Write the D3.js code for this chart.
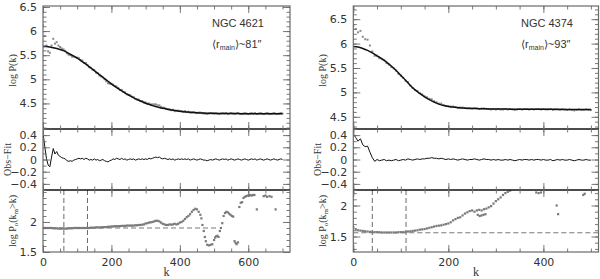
<!DOCTYPE html>
<html><head><meta charset="utf-8">
<script src="https://cdn.jsdelivr.net/npm/d3@7"></script>
<style>body{margin:0;background:#fff}svg{display:block}</style>
</head><body><svg id="c" width="600" height="279"></svg>
<script>
// ---------------- DATA ----------------
// NGC 4621 (left)
const kStepL = d3.range(0, 705, 5);          // obs / residual grid
const kFitL = d3.range(0, 710, 10);          // fit grid
const obsL = [6.12,5.90,5.70,5.58,5.55,5.70,5.84,5.74,5.77,5.70,
5.67,5.64,5.62,5.59,5.54,5.51,5.50,5.47,5.47,5.46,
5.45,5.44,5.40,5.39,5.34,5.34,5.30,5.25,5.24,5.20,
5.19,5.14,5.13,5.08,5.06,5.04,5.00,4.96,4.92,4.91,
4.90,4.89,4.86,4.85,4.82,4.78,4.78,4.74,4.73,4.69,
4.68,4.67,4.64,4.63,4.59,4.58,4.58,4.55,4.55,4.52,
4.52,4.49,4.50,4.48,4.48,4.48,4.48,4.46,4.46,4.43,
4.41,4.41,4.39,4.38,4.38,4.36,4.37,4.34,4.35,4.35,
4.34,4.34,4.33,4.34,4.32,4.33,4.31,4.31,4.32,4.31,
4.30,4.31,4.31,4.30,4.29,4.29,4.28,4.29,4.30,4.29,
4.29,4.30,4.29,4.28,4.29,4.30,4.29,4.30,4.28,4.29,
4.30,4.29,4.28,4.29,4.30,4.29,4.28,4.29,4.30,4.29,
4.28,4.29,4.30,4.29,4.30,4.28,4.29,4.30,4.29,4.28,
4.29,4.30,4.29,4.28,4.29,4.30,4.29,4.28,4.29,4.30,
4.29];
const fitL = [5.680,5.678,5.670,5.655,5.640,5.620,5.595,5.560,5.520,5.480,
5.440,5.390,5.340,5.290,5.235,5.180,5.125,5.070,5.015,4.960,
4.905,4.855,4.805,4.760,4.715,4.675,4.635,4.600,4.565,4.535,
4.505,4.480,4.455,4.435,4.415,4.398,4.383,4.370,4.358,4.347,
4.338,4.330,4.323,4.317,4.312,4.308,4.304,4.301,4.298,4.296,
4.294,4.293,4.292,4.291,4.290,4.290,4.289,4.289,4.288,4.288,
4.288,4.287,4.287,4.287,4.286,4.286,4.286,4.286,4.285,4.285,
4.285];
const resL = [0.44,0.22,0.02,-0.09,-0.12,0.04,0.18,0.09,0.13,0.07,
0.05,0.03,0.02,0.01,-0.02,-0.03,-0.02,-0.03,-0.01,0.00,
0.01,0.02,0.01,0.02,0.00,0.02,0.01,-0.01,0.00,-0.01,
0.01,-0.01,0.00,-0.02,-0.01,0.00,-0.02,-0.03,-0.04,-0.02,
-0.01,0.01,0.00,0.02,0.01,0.00,0.02,0.00,0.01,-0.01,
0.00,0.01,0.00,0.01,-0.01,0.00,0.01,0.00,0.01,0.00,
0.01,0.00,0.02,0.01,0.02,0.03,0.04,0.03,0.04,0.02,
0.01,0.02,0.01,0.00,0.01,0.00,0.01,-0.01,0.00,0.01,
0.00,0.01,0.00,0.01,0.00,0.01,-0.01,0.00,0.01,0.00,
-0.01,0.00,0.01,0.00,-0.01,-0.01,-0.02,-0.01,0.00,-0.01,
0.00,0.01,0.00,-0.01,0.00,0.01,0.00,0.01,-0.01,0.00,
0.01,0.00,-0.01,0.00,0.01,0.00,-0.01,0.00,0.01,0.00,
-0.01,0.00,0.01,0.00,0.01,-0.01,0.00,0.01,0.00,-0.01,
0.00,0.01,0.00,-0.01,0.00,0.01,0.00,-0.01,0.00,0.01,
0.00];
const cumGridL = d3.range(0, 460, 5);
const cumL = [1.90,1.90,1.90,1.90,1.90,1.90,1.895,1.895,1.895,1.89,
1.89,1.89,1.89,1.89,1.89,1.895,1.895,1.895,1.90,1.90,
1.90,1.90,1.90,1.90,1.90,1.90,1.90,1.90,1.905,1.905,
1.905,1.91,1.91,1.91,1.91,1.915,1.915,1.915,1.92,1.92,
1.925,1.925,1.93,1.93,1.93,1.93,1.935,1.935,1.935,1.94,
1.94,1.94,1.94,1.94,1.945,1.945,1.95,1.95,1.955,1.96,
1.975,1.98,1.99,1.995,2.00,2.01,2.02,2.02,2.01,1.99,
1.97,1.96,1.95,1.95,1.96,1.955,1.96,1.97,1.96,1.97,
1.99,2.00,2.02,2.05,2.08,2.10,2.13,2.17,2.20,2.22,
2.21,2.17];
const cumExtraKL = [460,463,466,470,473,476,480,485,490,495,500,503,506,510,513,517,520,524,528,532,536,540,544,548,552,556,560,563,566,570,574,578,582,586,590,594,598,602,606,610,614,618,625,645,650,655,662,668,680];
const cumExtraL = [2.12,2.06,1.95,1.85,1.75,1.68,1.62,1.61,1.62,1.63,1.70,1.74,1.76,1.77,1.75,1.85,1.90,1.98,2.10,2.15,2.17,2.16,2.14,2.12,2.10,2.09,1.68,1.65,1.63,1.66,2.25,2.32,2.33,2.40,2.42,2.43,2.44,2.44,2.45,2.44,2.45,2.45,2.21,2.43,2.44,2.42,2.43,2.42,2.21];
const kCutL = [61, 130];
const levelL = 1.90, levelEndL = 510;

// NGC 4374 (right)
const kStepR = d3.range(0, 505, 5);
const kFitR = d3.range(0, 510, 10);
const obsR = [6.36,6.30,6.23,6.26,6.14,6.09,6.08,5.96,5.84,5.75,
5.75,5.70,5.68,5.66,5.60,5.57,5.52,5.49,5.45,5.38,
5.34,5.30,5.24,5.21,5.14,5.09,5.05,5.03,4.98,4.96,
4.92,4.90,4.87,4.86,4.82,4.80,4.77,4.77,4.74,4.72,
4.72,4.71,4.71,4.70,4.68,4.69,4.69,4.68,4.67,4.67,
4.67,4.68,4.67,4.66,4.67,4.67,4.66,4.66,4.65,4.66,
4.65,4.66,4.65,4.65,4.66,4.65,4.66,4.65,4.64,4.65,
4.66,4.65,4.66,4.66,4.65,4.66,4.65,4.66,4.66,4.65,
4.66,4.65,4.65,4.66,4.64,4.65,4.66,4.65,4.66,4.65,
4.64,4.65,4.64,4.63,4.64,4.65,4.64,4.64,4.65,4.64,
4.64];
const fitR = [5.94,5.93,5.90,5.86,5.81,5.75,5.69,5.62,5.54,5.45,
5.35,5.25,5.14,5.05,4.98,4.91,4.85,4.80,4.76,4.73,
4.71,4.70,4.69,4.68,4.675,4.67,4.668,4.665,4.663,4.661,
4.660,4.659,4.658,4.657,4.657,4.656,4.656,4.655,4.655,4.654,
4.654,4.653,4.653,4.652,4.652,4.652,4.651,4.651,4.651,4.650,
4.650];
const resR = [0.42,0.36,0.30,0.34,0.24,0.21,0.22,0.12,0.03,-0.03,
0.00,-0.02,-0.01,0.00,-0.02,-0.01,-0.02,-0.01,0.00,-0.02,
-0.01,0.00,-0.01,0.01,0.00,-0.01,0.00,0.01,0.00,0.01,
0.01,0.02,0.02,0.03,0.02,0.02,0.01,0.02,0.01,0.00,
0.01,0.00,0.01,0.00,-0.01,0.00,0.01,0.00,-0.01,0.00,
0.00,0.01,0.00,-0.01,0.00,0.01,0.00,0.00,-0.01,0.00,
-0.01,0.00,-0.01,-0.01,0.00,-0.01,0.00,-0.01,-0.02,-0.01,
0.00,-0.01,0.00,0.00,-0.01,0.00,-0.01,0.00,0.00,-0.01,
0.00,-0.01,-0.01,0.00,-0.02,-0.01,0.00,-0.01,0.00,-0.01,
-0.01,0.00,-0.01,-0.02,-0.01,0.00,-0.01,-0.01,0.00,-0.01,
-0.01];
const cumGridR = d3.range(0, 335, 5);
const cumR = [1.65,1.62,1.60,1.595,1.59,1.585,1.58,1.575,1.575,1.57,
1.57,1.57,1.565,1.565,1.565,1.565,1.565,1.565,1.565,1.57,
1.57,1.57,1.575,1.58,1.585,1.59,1.595,1.60,1.61,1.615,
1.62,1.63,1.64,1.65,1.66,1.67,1.675,1.68,1.69,1.70,
1.71,1.73,1.76,1.78,1.80,1.81,1.84,1.87,1.89,1.91,
1.92,1.90,1.92,1.93,1.92,1.94,1.95,1.97,1.99,2.03,
2.07,2.10,2.13,2.17,2.20,2.22,2.24];
const cumExtraKR = [262,266,270,274,278,385,390,395,428,431,484,487];
const cumExtraR = [1.85,1.83,1.84,1.85,1.86,2.21,2.20,2.21,2.00,1.86,2.17,2.19];
const kCutR = [40, 111];
const levelR = 1.56, levelEndR = 516;

// tick / label text
const galaxyNames = ["NGC 4621", "NGC 4374"];
const radii = ["81", "93"];
const xTickLabelsL = [0, 200, 400, 600];
const xTickLabelsR = [0, 200, 400];
const topTicksL = [4.5, 5, 5.5, 6, 6.5];
const topTicksR = [4.5, 5, 5.5, 6, 6.5];
const midTicks = [-0.4, -0.2, 0, 0.2, 0.4];
const botTicksL = [1.5, 2];
const botTicksR = [1.5, 2];

// ---------------- DRAW ----------------
const svg = d3.select('#c');
const FR = '#6a6a6a', TXT = '#333', PT = '#8c8c8c';
const Y0 = 6, Y1 = 129, Y2 = 190, Y3 = 252;

function axesFor(g, x, y, xMajor, xMinor, yMajor, yMinor, yLabels, xLabels, lx, ly){
  const [xa, xb] = x.range(), [yb, ya] = y.range();
  const fmtNum = d => (d < 0 ? '\u2212' : '') + Math.abs(d);
  const add = (axis, tx, ty) => {
    const a = g.append('g').attr('transform', `translate(${tx},${ty})`).call(axis);
    a.select('.domain').remove();
    a.selectAll('line').attr('stroke', FR).attr('stroke-width', 0.9);
    a.selectAll('text').attr('fill', TXT).style('font-family', 'DejaVu Sans, sans-serif').style('font-size', '11px');
    return a;
  };
  add(d3.axisBottom(x).tickValues(xMajor).tickSize(-7).tickPadding(6).tickFormat(xLabels ? d3.format('d') : () => ''), 0, yb);
  add(d3.axisBottom(x).tickValues(xMinor).tickSize(-3.5).tickFormat(() => ''), 0, yb);
  add(d3.axisTop(x).tickValues(xMajor).tickSize(-7).tickFormat(() => ''), 0, ya);
  add(d3.axisTop(x).tickValues(xMinor).tickSize(-3.5).tickFormat(() => ''), 0, ya);
  add(d3.axisLeft(y).tickValues(yMajor).tickSize(-7).tickPadding(6).tickFormat(yLabels ? fmtNum : () => ''), xa, 0);
  add(d3.axisLeft(y).tickValues(yMinor).tickSize(-3.5).tickFormat(() => ''), xa, 0);
  add(d3.axisRight(y).tickValues(yMajor).tickSize(-7).tickFormat(() => ''), xb, 0);
  add(d3.axisRight(y).tickValues(yMinor).tickSize(-3.5).tickFormat(() => ''), xb, 0);
}

function within(dom, v){ return v >= Math.min(...dom) - 1e-9 && v <= Math.max(...dom) + 1e-9; }

function drawSide(o){
  const g = svg.append('g');
  const x = d3.scaleLinear().domain(o.xDom).range(o.xRange);
  const yT = d3.scaleLinear().domain(o.topDom).range([Y1, Y0]);
  const yM = d3.scaleLinear().domain([-0.5, 0.5]).range([Y2, Y1]);
  const yB = d3.scaleLinear().domain(o.botDom).range([Y3, Y2]);
  const [xa, xb] = o.xRange;
  const id = o.id;
  const defs = svg.append('defs');
  [['t', Y0, Y1], ['m', Y1, Y2], ['b', Y2, Y3]].forEach(([n, a, b]) => {
    defs.append('clipPath').attr('id', id + n).append('rect').attr('x', xa).attr('y', a).attr('width', xb - xa).attr('height', b - a);
  });
  const xMinor = d3.range(0, o.xDom[1], 50);
  const xMajor = d3.range(0, o.xDom[1], 200);

  // top panel: points + fit
  const gt = g.append('g').attr('clip-path', `url(#${id}t)`);
  gt.selectAll('rect.o').data(o.kStep).join('rect')
    .attr('x', (d, i) => x(d) - 1).attr('y', (d, i) => yT(o.obs[i]) - 1)
    .attr('width', 2).attr('height', 2).attr('fill', PT);
  gt.append('path').datum(o.kFit.map((k, i) => [k, o.fit[i]]))
    .attr('d', d3.line().x(d => x(d[0])).y(d => yT(d[1])).curve(d3.curveMonotoneX))
    .attr('fill', 'none').attr('stroke', '#111').attr('stroke-width', 1.5);

  // middle: residual
  const gm = g.append('g').attr('clip-path', `url(#${id}m)`);
  gm.append('path').datum(o.kStep.map((k, i) => [k, o.res[i]]))
    .attr('d', d3.line().x(d => x(d[0])).y(d => yM(d[1])))
    .attr('fill', 'none').attr('stroke', '#111').attr('stroke-width', 1);

  // bottom: cumulative
  const gb = g.append('g').attr('clip-path', `url(#${id}b)`);
  o.cuts.forEach(c => gb.append('line').attr('x1', x(c)).attr('x2', x(c)).attr('y1', Y2).attr('y2', Y3)
    .attr('stroke', '#444').attr('stroke-width', 0.8).attr('stroke-dasharray', '5,3'));
  gb.append('line').attr('x1', x(0)).attr('x2', x(o.levelEnd)).attr('y1', yB(o.level)).attr('y2', yB(o.level))
    .attr('stroke', '#555').attr('stroke-width', 0.8).attr('stroke-dasharray', '5,3');
  const cumPts = o.cumGrid.map((k, i) => [k, o.cum[i]]).concat(o.cumExtraK.map((k, i) => [k, o.cumExtra[i]]));
  gb.selectAll('rect.c').data(cumPts).join('rect')
    .attr('x', d => x(d[0]) - 1.1).attr('y', d => yB(d[1]) - 1.1)
    .attr('width', 2.2).attr('height', 2.2).attr('fill', '#7a7a7a');

  // frames
  g.append('rect').attr('x', xa).attr('y', Y0).attr('width', xb - xa).attr('height', Y3 - Y0)
    .attr('fill', 'none').attr('stroke', FR).attr('stroke-width', 1.2);
  [Y1, Y2].forEach(yy => g.append('line').attr('x1', xa).attr('x2', xb).attr('y1', yy).attr('y2', yy)
    .attr('stroke', '#111').attr('stroke-width', 1.3));

  // axes
  axesFor(g, x, yT, xMajor, xMinor, o.topTicks, d3.range(Math.ceil(o.topDom[0] * 10), Math.floor(o.topDom[1] * 10) + 1).map(v => v / 10), true, false);
  axesFor(g, x, yM, xMajor, xMinor, midTicks, d3.range(-5, 6).map(v => v / 10), true, false);
  axesFor(g, x, yB, xMajor, xMinor, o.botTicks, d3.range(Math.ceil(o.botDom[0] * 10), Math.floor(o.botDom[1] * 10) + 1).map(v => v / 10), true, true);
  // x labels only for chosen values
  // (axisBottom already labels majors; fine)

  // titles
  const serif = 'Liberation Serif, DejaVu Serif, serif';
  const cx = (xa + xb) / 2;
  g.append('text').attr('x', cx).attr('y', 276).attr('text-anchor', 'middle')
    .attr('fill', TXT).style('font-family', serif).style('font-size', '12px').text('k');

  const yl = (xx, yy, build) => {
    const t = g.append('text').attr('transform', `translate(${xx},${yy}) rotate(-90)`).attr('text-anchor', 'middle')
      .attr('fill', TXT).style('font-family', serif).style('font-size', '10px');
    build(t);
  };
  yl(o.titleX, (Y0 + Y1) / 2 + 3, t => t.text('log  P(k)'));
  yl(o.titleX - 5, (Y1 + Y2) / 2, t => t.text('Obs\u2212Fit'));
  yl(o.titleX, (Y2 + Y3) / 2, t => {
    t.append('tspan').text('log  P');
    t.append('tspan').attr('dy', 2).style('font-size', '7px').text('o');
    t.append('tspan').attr('dy', -2).text('(k');
    t.append('tspan').attr('dy', 2).style('font-size', '7px').text('m');
    t.append('tspan').attr('dy', -2).text('>k)');
  });

  // annotations
  const sans = 'Liberation Sans, Arial, sans-serif';
  g.append('text').attr('x', o.annX).attr('y', 27).attr('fill', TXT)
    .style('font-family', sans).style('font-size', '11px').text(o.name);
  const t2 = g.append('text').attr('x', o.annX).attr('y', 48).attr('fill', TXT)
    .style('font-family', sans).style('font-size', '11px');
  t2.append('tspan').text('\u27e8r');
  t2.append('tspan').attr('dy', 2).style('font-size', '7px').text('main');
  t2.append('tspan').attr('dy', -2).text('\u27e9~' + o.radius + '\u2033');
}

drawSide({id: 'L', xDom: [0, 722], xRange: [43, 290], topDom: [3.97, 6.52], botDom: [1.5, 2.533],
  kStep: kStepL, kFit: kFitL, obs: obsL, fit: fitL, res: resL,
  cumGrid: cumGridL, cum: cumL, cumExtraK: cumExtraKL, cumExtra: cumExtraL,
  cuts: kCutL, level: levelL, levelEnd: levelEndL, topTicks: topTicksL, botTicks: botTicksL,
  titleX: 16, annX: 212, name: galaxyNames[0], radius: radii[0]});
drawSide({id: 'R', xDom: [0, 516], xRange: [353.3, 598.5], topDom: [4.25, 6.77], botDom: [1.25, 2.25],
  kStep: kStepR, kFit: kFitR, obs: obsR, fit: fitR, res: resR,
  cumGrid: cumGridR, cum: cumR, cumExtraK: cumExtraKR, cumExtra: cumExtraR,
  cuts: kCutR, level: levelR, levelEnd: levelEndR, topTicks: topTicksR, botTicks: botTicksR,
  titleX: 326, annX: 521, name: galaxyNames[1], radius: radii[1]});
</script></body></html>
